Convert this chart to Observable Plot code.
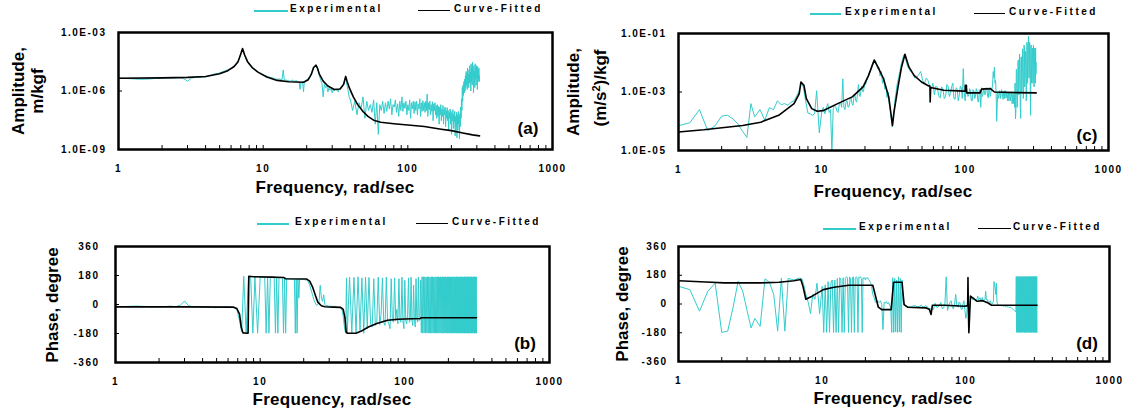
<!DOCTYPE html>
<html>
<head>
<meta charset="utf-8">
<script src="https://cdn.jsdelivr.net/npm/d3@7"></script>
<script src="https://cdn.jsdelivr.net/npm/@observablehq/plot@0.6"></script>
<style>
  html, body { margin: 0; padding: 0; background: #fff; }
  #root { position: relative; width: 1132px; height: 414px; overflow: hidden; background: #fff;
          font-family: "Liberation Sans", Arial, Helvetica, sans-serif; font-weight: bold; color: #000; }
  .abs { position: absolute; white-space: nowrap; line-height: 1; }
  .leg { font-size: 10px; letter-spacing: 2.5px; transform: translateY(-50%); }
  .xt { font-size: 17px; letter-spacing: 0.3px; transform: translate(-50%, -50%); }
  .yt { font-size: 17px; transform: translate(-50%, -50%) rotate(-90deg); }
  .tag { font-size: 17px; transform: translate(-50%, -50%); }
  .ln { position: absolute; height: 0; }
  svg g[aria-label="x-axis tick label"], svg g[aria-label="y-axis tick label"] { letter-spacing: 1.5px; }
</style>
</head>
<body>
<div id="root"></div>
<script>
// ---------------- DATA ----------------
// measured frequencies (rad/sec) shared by all experimental traces
const expFreq = [
  1.0,1.2,1.4,1.6,1.8,2.0,2.2,2.4,2.6,2.8,3.0,
  3.2,3.4,3.7,4.0,4.3,4.6,4.9,5.2,5.5,5.8,6.1,6.4,6.7,6.95,7.2,7.45,7.7,8.0,8.3,8.6,8.9,9.2,9.6,
  10,10.25,10.5,10.75,11,11.25,11.5,11.75,
  12,12.25,12.5,12.75,13,13.25,13.5,13.75,
  14,14.25,14.5,14.75,15,15.25,15.5,15.75,
  16,16.25,16.5,16.75,17,17.25,17.5,17.75,
  18,18.25,18.5,18.75,19,19.25,19.5,19.75,
  20,20.25,20.5,20.75,21,21.25,21.5,21.75,
  22,22.5,23,23.5,24,24.5,
  25,25.5,26,26.5,27,27.5,28,28.5,29,29.5,
  30,30.5,31,31.5,32,32.5,33,33.5,34,34.5,
  35,35.5,36,36.5,37,37.5,38,38.5,39,39.5,
  40,41.5,43,44.5,46,47.5,49,50.5,52,53.5,
  55,56.5,58,59.5,61,62.5,64,65.5,67,68.5,
  70,71.5,73,74.5,76,77.5,79,80.5,82,83.5,
  85,86.5,88,89.5,91,92.5,94,95.5,97,98.5,
  100,101.5,103,104.5,106,107.5,109,110.5,112,113.5,
  115,116.5,118,119.5,121,122.5,124,125.5,127,128.5,
  130,131.5,133,134.5,136,137.5,139,140.5,142,143.5,
  145,146.5,148,149.5,151,152.5,154,155.5,157,158.5,
  160,161.5,163,164.5,166,167.5,169,170.5,172,173.5,
  175,176.5,178,179.5,181,182.5,184,185.5,187,188.5,
  190,191.5,193,194.5,196,197.5,199,200.5,202,203.5,
  205,206.5,208,209.5,211,212.5,214,215.5,217,218.5,
  220,221.5,223,224.5,226,227.5,229,230.5,232,233.5,
  235,236.5,238,239.5,241,242.5,244,245.5,247,248.5,
  250,251.5,253,254.5,256,257.5,259,260.5,262,263.5,
  265,266.5,268,269.5,271,272.5,274,275.5,277,278.5,
  280,281.5,283,284.5,286,287.5,289,290.5,292,293.5,
  295,296.5,298,299.5,301,302.5,304,305.5,307,308.5,
  310,311.5,313
];

// (a) receptance amplitude, m/kgf - experimental
const ampAExp = [
  4.6e-6,4.3e-6,4.0e-6,4.1e-6,4.4e-6,4.6e-6,4.7e-6,4.6e-6,4.8e-6,4.5e-6,3.2e-6,
  4.6e-6,5.0e-6,5.1e-6,5.3e-6,6.2e-6,7.5e-6,8.0e-6,9.5e-6,1.1e-5,1.3e-5,1.5e-5,2.0e-5,3.0e-5,6.5e-5,1.3e-4,6.5e-5,3.6e-5,2.3e-5,1.7e-5,1.35e-5,1.1e-5,9.5e-6,8.0e-6,
  6.8e-6,6.2e-6,5.8e-6,5.5e-6,5.2e-6,5.0e-6,4.8e-6,4.5e-6,
  4.3e-6,4.1e-6,4.0e-6,4.1e-6,4.2e-6,3.9e-6,3.8e-6,1.2e-5,
  3.7e-6,3.6e-6,3.6e-6,3.4e-6,3.5e-6,3.2e-6,3.3e-6,3.5e-6,
  3.6e-6,3.3e-6,3.2e-6,3.3e-6,3.4e-6,3.1e-6,3.0e-6,2.6e-6,
  1.2e-6,2.8e-6,2.5e-6,3.0e-6,9e-7,3.0e-6,3.2e-6,3.5e-6,
  3.8e-6,4.1e-6,4.5e-6,5.0e-6,5.5e-6,6.3e-6,7.5e-6,9e-6,
  1.1e-5,1.6e-5,2.2e-5,1.9e-5,1.2e-5,6e-6,
  3.5e-6,2.5e-6,5e-7,2.2e-6,1.5e-6,1.8e-6,9e-7,1.4e-6,1.1e-6,1.3e-6,
  8e-7,1.2e-6,1.0e-6,1.3e-6,1.1e-6,1.2e-6,9e-7,1.3e-6,1.2e-6,1.4e-6,
  1.5e-6,1.8e-6,2.2e-6,3.2e-6,4.8e-6,3.5e-6,2.0e-6,1.2e-6,7e-7,4e-7,
  4e-7,1e-7,3e-7,6e-8,2.5e-7,1.2e-7,5e-7,4e-8,3e-7,1e-7,
  2e-7,8e-8,3.5e-7,2e-8,2.5e-7,6e-9,2e-7,1e-7,3e-7,7e-8,
  2.5e-7,9e-8,3e-7,1.2e-7,4e-7,6e-8,2e-7,1.5e-7,3.5e-7,8e-8,
  2.2e-7,5e-8,3e-7,1e-7,5e-7,9e-8,2.5e-7,1.3e-7,3e-7,6e-8,
  2e-7,1e-7,3.5e-7,4e-8,2.5e-7,1.2e-7,3e-7,7e-8,2.8e-7,1e-7,
  3e-7,6e-8,2.2e-7,1.2e-7,4e-7,5e-8,2.5e-7,9e-8,3.2e-7,1e-7,
  2.5e-7,8e-8,3e-7,1e-7,7e-7,5e-8,2.5e-7,1.1e-7,3e-7,6e-8,
  2e-7,9e-8,2.8e-7,3e-8,2.2e-7,1e-7,2.5e-7,6e-8,1.8e-7,4e-8,
  2e-7,5e-8,1.6e-7,2e-8,1.5e-7,6e-8,2e-7,3e-8,1.2e-7,5e-8,
  1.8e-7,2e-8,1.2e-7,6e-8,1.5e-7,1.5e-8,1e-7,4e-8,1.4e-7,3e-8,
  1e-7,1e-8,8e-8,4e-8,1.2e-7,2e-8,9e-8,6e-9,7e-8,3e-8,
  1.1e-7,1.2e-8,6e-8,2.5e-8,9e-8,5e-9,5e-8,1.5e-8,8e-8,4e-9,
  6e-8,1e-8,9e-8,2e-8,5e-8,3.5e-9,7e-8,1.5e-8,1.5e-7,4e-8,
  4e-7,1e-7,1.5e-6,3e-7,2e-6,6e-7,3e-6,8e-7,4e-6,1e-6,
  6e-6,1.5e-6,1e-5,2e-6,8e-6,1.2e-6,1.5e-5,3e-6,7e-6,1.5e-6,
  1.2e-5,2.5e-6,2e-5,4e-6,9e-6,1e-6,2.5e-5,3e-6,1.5e-5,2e-6,
  3e-5,5e-6,1.2e-5,8e-7,2e-5,3e-6,1e-5,1.5e-6,2.5e-5,4e-6,
  1.5e-5,2e-6,2e-5,5e-6,1e-5,1.2e-6,1.8e-5,3e-6,1.2e-5,4e-6,
  1.5e-5,3e-6,6e-6
];
// (a) curve-fitted
const fitFreqA = [1,2,3,4,5,5.7,6.3,6.7,7.0,7.2,7.45,7.8,8.4,9.2,10.6,12.5,15,19,20.5,21.5,22.3,23.2,23.8,24.4,26,28,31,34,36,37.2,38,39.5,42,45,49,53,58,65,80,100,130,170,200,240,280,313];
const fitAmpA = [4.5e-6,4.7e-6,5.0e-6,5.5e-6,7.6e-6,1.1e-5,1.8e-5,3.2e-5,7.9e-5,1.5e-4,7e-5,3.2e-5,1.6e-5,9.3e-6,5.2e-6,3.5e-6,3.0e-6,2.8e-6,3.8e-6,7.1e-6,1.6e-5,2.1e-5,1.4e-5,7.6e-6,3.2e-6,1.8e-6,1.2e-6,1.26e-6,2.2e-6,5.6e-6,3.2e-6,1.4e-6,5e-7,2e-7,8.9e-8,5e-8,3.2e-8,2.5e-8,2.1e-8,1.8e-8,1.5e-8,1.1e-8,9.3e-9,7e-9,5.6e-9,5e-9];

// (b) phase, degree - experimental
const phaseBExp = [
  -14,-12,-10,-12,-15,-14,-13,-10,-14,-5,22,
  -8,-14,-12,-15,-14,-17,-20,-15,-18,-14,-16,-18,-22,-40,-100,-170,175,-175,172,168,-178,170,-178,
  168,170,168,170,-178,170,-178,168,
  170,168,170,-178,168,-178,168,166,
  168,165,-178,165,-178,160,160,158,
  160,158,160,155,158,155,-178,158,
  -178,158,40,158,160,155,155,158,
  158,155,150,155,152,148,140,130,
  120,90,60,30,10,-5,
  0,10,120,40,20,60,0,-8,-5,-10,
  -12,-8,-15,-10,-12,-14,-10,-15,-18,-14,
  -20,-18,-22,-30,-40,-70,-120,-160,-178,165,
  -178,170,-178,168,-175,172,-160,165,-178,170,
  -150,168,-120,-140,160,-130,-110,170,-125,-60,
  165,-110,-130,170,-100,-120,-150,160,-95,-110,
  165,-100,-30,-120,160,-95,-110,170,-100,-150,
  150,-100,-120,-60,165,-110,-95,170,-100,-130,
  120,-95,-140,160,-90,-110,170,-100,-80,150,
  -175,172,-178,172,-176,172,-178,170,-176,172,
  -178,172,-176,170,-178,172,-178,172,-176,170,
  -178,172,-176,170,-178,172,-178,172,-176,170,
  -178,172,-176,170,-178,172,-178,172,-176,170,
  -178,172,-176,170,-178,172,-178,172,-176,170,
  -178,172,-176,170,-178,172,-178,172,-176,170,
  -178,172,-176,170,-178,172,-178,172,-176,170,
  -178,172,-176,170,-178,172,-178,172,-176,170,
  -178,172,-176,170,-178,172,-178,172,-176,170,
  -178,172,-176,170,-178,172,-178,172,-176,170,
  -178,172,-176,170,-178,172,-178,172,-176,170,
  -178,172,-176,170,-178,172,-178,172,-176,170,
  -178,172,-176
];
// (b) curve-fitted
const fitFreqB = [1,3,6.5,6.9,7.2,7.4,7.6,8.25,8.35,9,12,14.5,15,21,22,23,24,25,26.5,28,32,36,37.5,38.5,39.3,40,46,50,56,64,76,90,100,128,130,313];
const fitPhaseB = [-15,-15,-16,-25,-60,-140,-176,-178,175,172,170,168,160,158,145,110,60,15,-8,-14,-16,-18,-30,-80,-170,-178,-178,-165,-140,-118,-98,-92,-90,-87,-82,-82];

// (c) accelerance amplitude, (m/s^2)/kgf - experimental
const ampCExp = [
  7e-5,8.9e-5,2.5e-4,4.8e-5,7e-5,1.5e-4,1.6e-4,1.2e-4,8e-5,4.5e-5,2.8e-5,
  4e-4,1.4e-4,2.5e-4,1.1e-4,2.9e-4,2.5e-4,5e-4,3.7e-4,4e-4,3.5e-4,4.5e-4,5e-4,7.6e-4,1.1e-3,2e-3,1.4e-3,5e-4,1.9e-4,1.8e-4,1.6e-4,1.8e-4,1.1e-3,4e-5,
  2.2e-4,3e-4,1.8e-4,2.8e-4,4e-4,2e-4,2.5e-4,8e-6,
  2.6e-4,3.5e-4,3.2e-4,2.2e-4,2e-4,4e-4,4.5e-4,3e-4,
  2.8e-3,3e-4,2.5e-4,4.5e-4,5e-4,3e-4,3.2e-4,5.5e-4,
  6.3e-4,4e-4,3.5e-4,7e-4,8e-4,5e-4,4.5e-4,9e-4,
  1.8e-3,8e-4,7e-4,1.1e-3,1.6e-3,1.1e-3,1e-3,1.5e-3,
  2e-3,1.8e-3,2.5e-3,2.6e-3,3.2e-3,3.8e-3,5e-3,5.5e-3,
  6.3e-3,9e-3,1.1e-2,1.25e-2,1e-2,6.3e-3,
  7e-3,3.5e-3,5e-3,2e-3,3.2e-3,1.25e-3,1.6e-3,6.3e-4,1e-3,4e-4,
  2.5e-4,1.25e-4,6.3e-5,1.6e-4,2.8e-4,6.3e-4,1e-3,1.8e-3,2.5e-3,3.5e-3,
  5e-3,7e-3,1e-2,1.25e-2,1.6e-2,1.9e-2,1.8e-2,1.25e-2,1e-2,8e-3,
  7e-3,5e-3,4.5e-3,3e-3,3.2e-3,4e-3,5e-3,2.5e-3,2e-3,3e-3,
  2.5e-3,1.6e-3,1.25e-3,2e-3,8e-4,1.6e-3,1.4e-3,7e-4,6.3e-4,1.5e-3,
  1.25e-3,6e-4,7e-4,1.8e-3,1.6e-3,7e-4,9e-4,1.5e-3,2e-3,6e-4,
  5.6e-4,1.4e-3,1.25e-3,5e-4,8e-4,1.6e-3,1.4e-3,6e-4,6.3e-3,1e-3,
  5e-4,1.4e-3,1.25e-3,7e-4,8e-4,1.3e-3,1e-3,5e-4,5e-4,1.2e-3,
  1.1e-3,6e-4,7e-4,1.3e-3,1.1e-3,5e-4,4.5e-4,1.2e-3,9e-4,3e-4,
  1.4e-3,7e-4,8e-4,1.3e-3,1.1e-3,8e-4,1e-3,1.4e-3,1.25e-3,7e-4,
  6.3e-4,1.2e-3,1.1e-3,7e-4,9e-4,1.3e-3,1.25e-3,2e-3,5e-3,3e-3,
  7e-3,2e-3,2.5e-3,8e-4,1e-4,4e-4,1e-3,6e-4,6.3e-4,1.1e-3,
  1.1e-3,6e-4,8e-4,1.2e-3,1e-3,7e-4,5.6e-4,1e-3,1.1e-3,6e-4,
  9e-4,1.1e-3,6.3e-4,8e-4,1e-3,5e-4,8e-4,1e-3,5e-4,9e-4,
  1e-3,5e-4,7e-4,1e-3,9e-4,4e-4,6.3e-4,9e-4,4e-4,8e-4,
  8e-4,3e-4,2e-3,1.2e-4,2.5e-4,6e-3,5e-3,3e-4,6.3e-4,1e-2,
  1.25e-2,8e-4,1.6e-3,2e-2,1e-2,3e-4,1.25e-4,1.5e-2,1.6e-2,1e-3,
  2.5e-3,3e-2,2.5e-2,6e-4,1.25e-3,4e-2,3.2e-2,1.5e-3,4e-3,2.5e-2,
  2e-2,5e-4,6.3e-4,5e-2,4e-2,2e-3,6.3e-3,6e-2,8e-2,3e-3,
  3.2e-3,5e-2,4e-2,1.2e-3,1.6e-4,3e-2,4e-2,2e-3,5e-3,3e-2,
  3.2e-2,2e-3,2.5e-3,4e-2,2.5e-2,1.5e-3,8e-3,3e-2,3.2e-2,2e-3,
  3.2e-2,4e-3,1e-2
];
// (c) curve-fitted
const fitFreqC = [1,1.5,2.8,3.75,5,6.4,6.95,7.15,7.5,7.8,8.5,9.3,10.2,12.9,16.3,19.4,21.2,23.2,24.6,26.9,29.3,31.1,32,34,36,38,40.5,44,49.6,55.7,56.8,57.0,57.4,58.5,71,97.8,100,100.3,102,102.3,127,130,150,160,228,313];
const fitAmpC = [4.3e-5,5.1e-5,7.2e-5,9.3e-5,1.6e-4,4e-4,8.7e-4,2.2e-3,1.7e-3,5.9e-4,2.7e-4,2.2e-4,2.3e-4,4e-4,6.8e-4,1.5e-3,3.7e-3,1.23e-2,7.2e-3,2.9e-3,6.8e-4,7.2e-5,2.3e-4,1.5e-3,7.2e-3,1.95e-2,7.2e-3,3.7e-3,2.2e-3,1.6e-3,1.6e-3,4.6e-4,1.4e-3,1.4e-3,1.15e-3,1.07e-3,1.07e-3,1.7e-3,1.7e-3,9.3e-4,9.3e-4,1.25e-3,1.3e-3,1.0e-3,9.5e-4,9.3e-4];

// (d) phase, degree - experimental
const phaseDExp = [
  111,90,-45,80,130,-178,-170,-20,142,80,-40,
  -150,-90,-140,158,135,60,-170,162,-170,160,155,150,158,162,160,120,60,10,-60,60,30,130,-60,
  110,-178,120,-178,140,-178,130,150,
  -178,150,-178,160,-178,165,150,-178,
  165,-178,160,170,165,-178,170,160,
  -178,165,170,-178,160,170,165,-178,
  170,165,170,160,-178,165,160,165,
  150,165,160,165,155,150,140,130,
  120,60,40,10,20,15,
  10,20,-5,-160,10,5,15,0,10,-10,
  -20,-178,165,-178,160,-175,150,-178,170,-175,
  160,-178,150,20,-5,-10,-15,-12,-18,-15,
  -15,-18,-12,-10,-20,-15,-8,-20,-12,-15,
  -25,-30,-30,-35,5,-20,-20,-10,10,-30,
  -25,0,170,-40,-15,10,20,-20,-30,0,
  60,-10,-20,10,10,-30,-35,0,20,-40,
  -90,-60,30,0,-20,20,40,30,25,40,
  35,20,20,30,50,25,30,40,25,20,
  40,30,20,25,30,80,25,30,15,20,
  15,10,20,10,5,0,10,15,140,120,
  100,60,130,20,0,-5,-5,-10,-10,-8,
  -8,-12,-12,-10,-10,-15,-15,-12,-12,-15,
  -18,-15,-15,-20,-20,-18,-18,-22,-22,-20,
  -20,-25,-25,-28,-30,-32,-35,-38,-40,-42,
  -45,-48,-50,172,-178,170,-176,172,-178,170,
  -178,172,-176,170,-178,172,-178,172,-176,170,
  -178,172,-176,170,-178,172,-178,172,-176,170,
  -178,172,-176,170,-178,172,-178,172,-176,170,
  -178,172,-176,170,-178,172,-178,172,-176,170,
  -178,172,-176,170,-178,172,-178,172,-176,170,
  -178,172,-176
];
// (d) curve-fitted
const fitFreqD = [1,1.55,2.08,3.75,5,6.36,7.1,7.35,7.7,8.5,10.2,12.1,15.3,22.5,23.4,24.6,26,30.2,30.8,31.4,36,36.6,37.2,39.3,52.7,55.8,57.3,57.8,58.5,71,98,103,103.5,104,105,107.7,120,131,143,151,313];
const fitPhaseD = [146,138,132,132,136,146,153,111,30,49,90,105,117,117,58,-20,-35,-35,50,136,136,60,-4,-20,-24,-35,-65,-40,-8,-8,-14,-10,165,0,-180,49,17,21,6,-8,-8];

// axis ticks and labels
const xTickValues = [1, 10, 100, 1000];
const xTickLabels = ["1", "10", "100", "1000"];
const xMinorTicks = [2,3,4,5,6,7,8,9,10,20,30,40,50,60,70,80,90,100,200,300,400,500,600,700,800,900];
const ampTicksA = [1e-9, 1e-6, 1e-3];
const ampTickLabelsA = ["1.0E-09", "1.0E-06", "1.0E-03"];
const ampTicksC = [1e-5, 1e-3, 1e-1];
const ampTickLabelsC = ["1.0E-05", "1.0E-03", "1.0E-01"];
const phaseTicks = [-360, -180, 0, 180, 360];
const phaseTickLabels = ["-360", "-180", "0", "180", "360"];
const seriesNames = ["Experimental", "Curve-Fitted"];
const xTitle = "Frequency, rad/sec";

// ---------------- LAYOUT ----------------
const CYAN = "#33cccc";
const FONT = '"Liberation Sans", Arial, Helvetica, sans-serif';
const root = document.getElementById("root");

const panels = [
  { tag: "(a)", left: 0, top: 0, w: 566, h: 200, fl: 118, fr: 552, ft: 32, fb: 149, log: true,
    ydom: [1e-9, 1e-3], yticks: ampTicksA, ylabels: ampTickLabelsA, yinner: [1e-6], ypad: 12,
    exp: ampAExp, fitF: fitFreqA, fitV: fitAmpA,
    tagPos: [528, 128], xt: [335, 187], yt: [["Amplitude,", 18, 91], ["m/kgf", 37, 91]],
    leg: { y: 9, c: [254, 288, 290], k: [418, 450, 454] } },
  { tag: "(b)", left: 0, top: 200, w: 566, h: 214, fl: 115, fr: 549, ft: 46, fb: 162, log: false,
    ydom: [-360, 360], yticks: phaseTicks, ylabels: phaseTickLabels, yinner: [-180, 0, 180], ypad: 16,
    exp: phaseBExp, fitF: fitFreqB, fitV: fitPhaseB,
    tagPos: [525, 343], xt: [332, 399], yt: [["Phase, degree", 52, 305]],
    leg: { y: 222, c: [257, 289, 295], k: [416, 448, 452] } },
  { tag: "(c)", left: 566, top: 0, w: 566, h: 200, fl: 112, fr: 542, ft: 33, fb: 150, log: true,
    ydom: [1e-5, 1e-1], yticks: ampTicksC, ylabels: ampTickLabelsC, yinner: [1e-3], ypad: 12,
    exp: ampCExp, fitF: fitFreqC, fitV: fitAmpC,
    tagPos: [1087, 135], xt: [893, 191], yt: [["Amplitude,", 573, 92], ["(m/s<sup style=\"font-size:11px\">2</sup>)/kgf", 600, 88]],
    leg: { y: 12, c: [810, 841, 845], k: [974, 1005, 1009] } },
  { tag: "(d)", left: 566, top: 200, w: 566, h: 214, fl: 112, fr: 543, ft: 46, fb: 161, log: false,
    ydom: [-360, 360], yticks: phaseTicks, ylabels: phaseTickLabels, yinner: [-180, 0, 180], ypad: 11,
    exp: phaseDExp, fitF: fitFreqD, fitV: fitPhaseD,
    tagPos: [1087, 343], xt: [893, 398], yt: [["Phase, degree", 622, 304]],
    leg: { y: 227, c: [823, 856, 859], k: [978, 1011, 1013] } }
];

function addDiv(cls, html, x, y) {
  const d = document.createElement("div");
  d.className = "abs " + cls;
  d.innerHTML = html;
  d.style.left = x + "px";
  d.style.top = y + "px";
  root.appendChild(d);
  return d;
}
function addLine(x1, x2, y, color, w) {
  const d = document.createElement("div");
  d.className = "ln";
  d.style.left = x1 + "px";
  d.style.width = (x2 - x1) + "px";
  d.style.top = (y - w / 2) + "px";
  d.style.borderTop = w + "px solid " + color;
  root.appendChild(d);
}

for (const p of panels) {
  if (p.exp.length !== expFreq.length) throw new Error(p.tag + " exp length " + p.exp.length + " vs " + expFreq.length);
  if (p.fitF.length !== p.fitV.length) throw new Error(p.tag + " fit length mismatch");
  const innerW = p.fr - p.fl, innerH = p.fb - p.ft;
  const expRows = expFreq.map((f, i) => ({ f, v: p.exp[i] }));
  const fitRows = p.fitF.map((f, i) => ({ f, v: p.fitV[i] }));
  const yLab = new Map(p.yticks.map((t, i) => [t, p.ylabels[i]]));
  const svg = Plot.plot({
    width: p.w, height: p.h,
    marginLeft: p.fl, marginRight: p.w - p.fr, marginTop: p.ft, marginBottom: p.h - p.fb,
    x: { type: "log", domain: [1, 1000] },
    y: p.log ? { type: "log", domain: p.ydom } : { type: "linear", domain: p.ydom },
    style: { background: "transparent", fontFamily: FONT, fontWeight: "bold", overflow: "visible", color: "#000" },
    marks: [
      Plot.line(expRows, { x: "f", y: "v", stroke: CYAN, strokeWidth: 1, clip: true }),
      Plot.line(fitRows, { x: "f", y: "v", stroke: "#000", strokeWidth: 1.6, clip: true }),
      Plot.tickX(xMinorTicks, { x: d => d, insetTop: innerH - 4, stroke: "#000", strokeWidth: 1 }),
      Plot.tickY(p.yinner, { y: d => d, insetRight: innerW - 4, stroke: "#000", strokeWidth: 1 }),
      Plot.axisX({ ticks: xTickValues, tickSize: 0, tickPadding: 15, label: null,
                   tickFormat: d => xTickLabels[xTickValues.indexOf(d)], fontSize: 10, fontWeight: "bold" }),
      Plot.axisY({ ticks: p.yticks, tickSize: 0, tickPadding: p.ypad, label: null,
                   tickFormat: d => yLab.get(d), fontSize: 10, fontWeight: "bold" }),
      Plot.frame({ stroke: "#000", strokeWidth: 2.5 })
    ]
  });
  svg.style.position = "absolute";
  svg.style.left = p.left + "px";
  svg.style.top = p.top + "px";
  root.appendChild(svg);

  // legend
  addLine(p.leg.c[0], p.leg.c[1], p.leg.y + 2, CYAN, 2);
  addDiv("leg", seriesNames[0], p.leg.c[2], p.leg.y);
  addLine(p.leg.k[0], p.leg.k[1], p.leg.y + 2, "#000", 1.5);
  addDiv("leg", seriesNames[1], p.leg.k[2], p.leg.y);
  // titles
  addDiv("xt", xTitle, p.xt[0], p.xt[1]);
  for (const [t, x, y] of p.yt) addDiv("yt", t, x, y);
  addDiv("tag", p.tag, p.tagPos[0], p.tagPos[1]);
}
</script>
</body>
</html>
